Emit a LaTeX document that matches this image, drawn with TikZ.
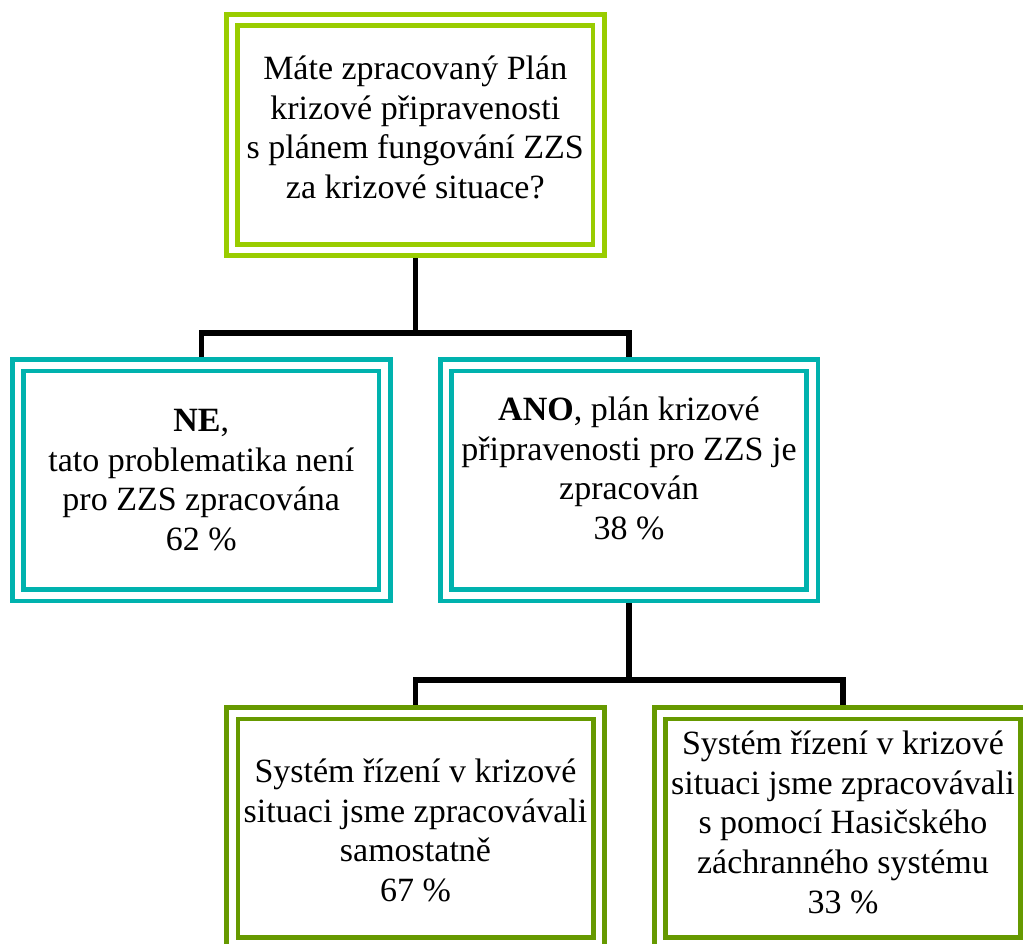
\documentclass[tikz,border=0pt]{standalone}
\usepackage{fontspec}
\setmainfont{Liberation Serif}
\newfontfamily\tnr{Liberation Serif}
\usetikzlibrary{backgrounds}
\definecolor{lime}{HTML}{99CC00}
\definecolor{tealc}{HTML}{00B2AE}
\definecolor{olive}{HTML}{669900}
\tikzset{
  box/.style={draw=#1, double=white, double distance=6.5pt, line width=4.75pt,
    fill=white, minimum width=366.5pt, minimum height=230pt, inner sep=0pt},
  txt/.style={inner sep=0pt, align=center, font=\tnr\fontsize{34}{39.6}\selectfont},
  conn/.style={draw=black, line width=5.5pt}
}
\begin{document}
\begin{tikzpicture}[x=1pt, y=-1pt]
\useasboundingbox (0,0) rectangle (1023,944);
\node[box=lime] (top) at (415.25,135.25) {};
\node[txt] (topt) at ([yshift=8pt]top.center) {Máte zpracovaný Plán\\krizové připravenosti\\s plánem fungování ZZS\\za krizové situace?};
\node[box=tealc] (ne) at (201.25,480.25) {};
\node[txt] (net) at (ne.center) {\textbf{NE},\\tato problematika není\\pro ZZS zpracována\\62 \%};
\node[box=tealc] (ano) at (629,480.25) {};
\node[txt] (anot) at ([yshift=12pt]ano.center) {\textbf{ANO}, plán krizové\\připravenosti pro ZZS je\\zpracován\\38 \%};
\node[box=olive] (sam) at (415.5,828.25) {};
\node[txt] (samt) at ([yshift=-2pt]sam.center) {Systém řízení v krizové\\situaci jsme zpracovávali\\samostatně\\67 \%};
\node[box=olive] (has) at (843,828.25) {};
\node[txt] (hast) at ([yshift=6pt]has.center) {Systém řízení v krizové\\situaci jsme zpracovávali\\s pomocí Hasičského\\záchranného systému\\33 \%};
\coordinate (j1) at (415.25,333);
\coordinate (j2) at (629,680);
\begin{scope}[on background layer]
  \draw[conn] (top.south) -- (j1);
  \draw[conn] (ne.north) |- (j1) -| (ano.north);
  \draw[conn] (ano.south) -- (j2);
  \draw[conn] (sam.north) |- (j2) -| (has.north);
\end{scope}
\end{tikzpicture}
\end{document}
